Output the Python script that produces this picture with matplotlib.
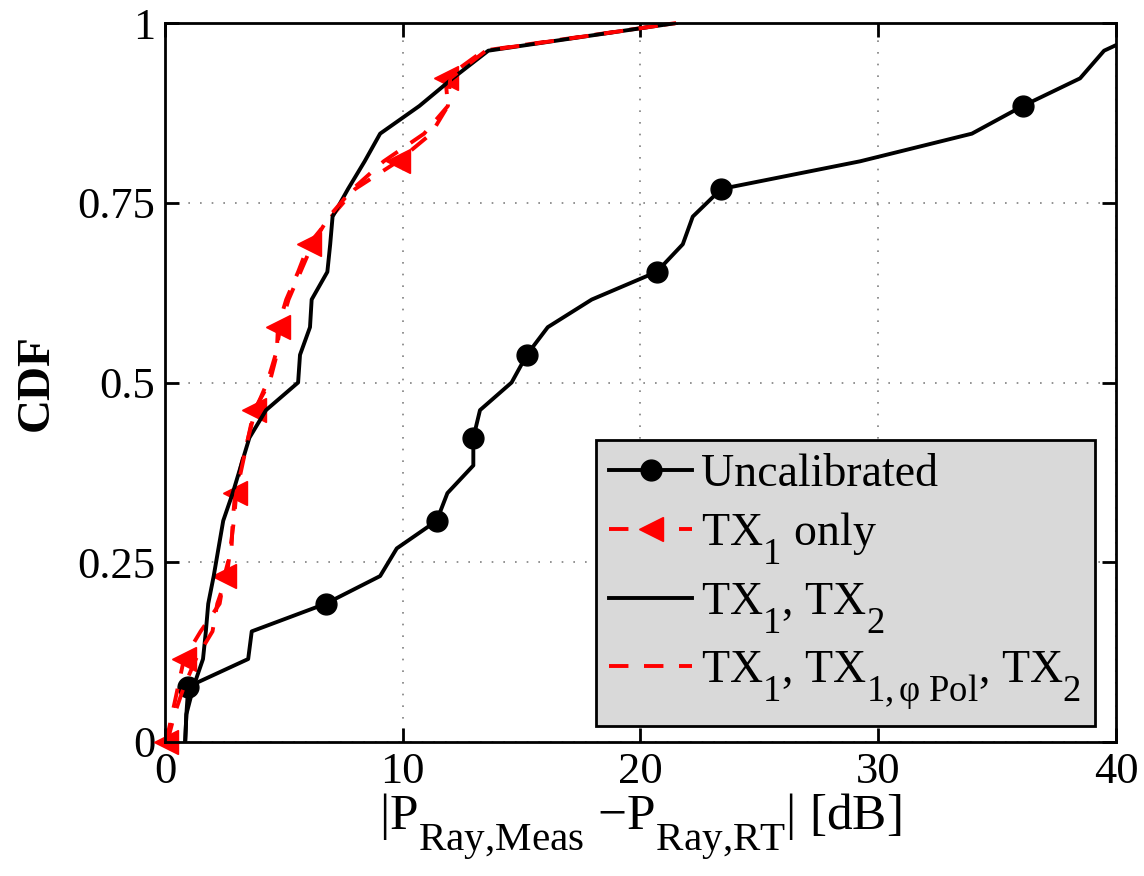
import numpy as np
import matplotlib
matplotlib.use('Agg')
import matplotlib.pyplot as plt
import matplotlib._mathtext as mt

plt.rcParams['font.family'] = 'Liberation Serif'
plt.rcParams['mathtext.fontset'] = 'custom'
plt.rcParams['mathtext.rm'] = 'Liberation Serif'
plt.rcParams['mathtext.it'] = 'Liberation Serif:italic'
plt.rcParams['mathtext.bf'] = 'Liberation Serif:bold'

# matlab-like subscripts: a bit larger and lower than mathtext default
mt.SHRINK_FACTOR = 0.8
mt.FontConstantsBase.sub1 = 0.95

# empirical CDF levels (26 samples per curve)
cdf = np.arange(27) / 26

# |P_meas - P_RT| in dB, sorted
uncal = [0.85, 0.9, 0.98, 3.5, 3.65, 6.76, 9.05, 9.75, 11.43, 11.88, 12.97,
         12.97, 13.25, 14.58, 15.22, 16.1, 17.95, 20.68, 21.78, 22.2, 23.4,
         29.24, 33.94, 36.08, 38.49, 39.5, 42.0]
tx1_only = [0.05, 0.3, 0.55, 0.8, 1.5, 2.3, 2.5, 2.8, 2.85, 2.95, 3.2, 3.5,
            3.75, 4.4, 4.7, 4.75, 5.1, 5.6, 6.05, 7.0, 8.0, 9.8, 11.2, 11.9,
            11.8, 13.4, 21.5]
tx1_tx2 = [0.85, 0.9, 1.2, 1.6, 1.72, 1.82, 2.05, 2.25, 2.45, 2.85, 3.2, 3.55,
           4.25, 5.6, 5.68, 6.1, 6.17, 6.83, 6.95, 7.05, 7.7, 8.4, 9.05, 10.7,
           12.1, 13.6, 21.5]
tx1_pol_tx2 = [0.1, 0.4, 0.8, 1.3, 2.0, 2.2, 2.6, 2.75, 2.9, 3.0, 3.25, 3.5,
               3.8, 4.3, 4.65, 4.85, 5.2, 5.7, 6.2, 6.9, 7.9, 9.2, 10.9, 11.9,
               12.0, 13.5, 21.5]

fig = plt.figure(figsize=(11.44, 8.76), dpi=100)
ax = fig.add_axes([0.1442, 0.153, 0.8313, 0.8207])

lw = 2.8
ax.plot(uncal, cdf, color='black', lw=lw, marker='o', markersize=15,
        markevery=(2, 3), label='Uncalibrated')
ax.plot(tx1_only, cdf, color='red', lw=lw, dashes=(5, 4), marker='<',
        markersize=17, markevery=(0, 3), clip_on=False, label='TX$_1$ only')
ax.plot(tx1_tx2, cdf, color='black', lw=lw, label='TX$_1$, TX$_2$')
ax.plot(tx1_pol_tx2, cdf, color='red', lw=lw, dashes=(5, 4),
        label='TX$_1$, TX$_{1{,}\\,\\mathrm{φ\\ Pol}}$, TX$_2$')

ax.set_xlim(0, 40)
ax.set_ylim(0, 1)
ax.set_xticks([0, 10, 20, 30, 40])
ax.set_yticks([0, 0.25, 0.5, 0.75, 1])
ax.set_yticklabels(['0', '0.25', '0.5', '0.75', '1'])
ax.tick_params(direction='in', length=10, width=2, labelsize=32, pad=7,
               top=True, right=True)
for s in ax.spines.values():
    s.set_linewidth(2)
ax.grid(True, linestyle=(0, (1, 6)), color='gray', linewidth=1.2)

ax.set_ylabel('CDF', fontsize=34, fontweight='bold', labelpad=14)
ax.set_xlabel('|P$_{\\mathrm{Ray{,}Meas}}$ $-$P$_{\\mathrm{Ray{,}RT}}$| [dB]',
              fontsize=37, labelpad=0)

leg = ax.legend(loc='lower right', bbox_to_anchor=(0.978, 0.022),
                borderaxespad=0, fontsize=33, fancybox=False,
                facecolor='#d9d9d9', edgecolor='black', framealpha=1,
                handlelength=1.8, handletextpad=0.2, labelspacing=0.3,
                borderpad=0.3)
leg.get_frame().set_linewidth(2)

fig.savefig('out.png', dpi=100)
